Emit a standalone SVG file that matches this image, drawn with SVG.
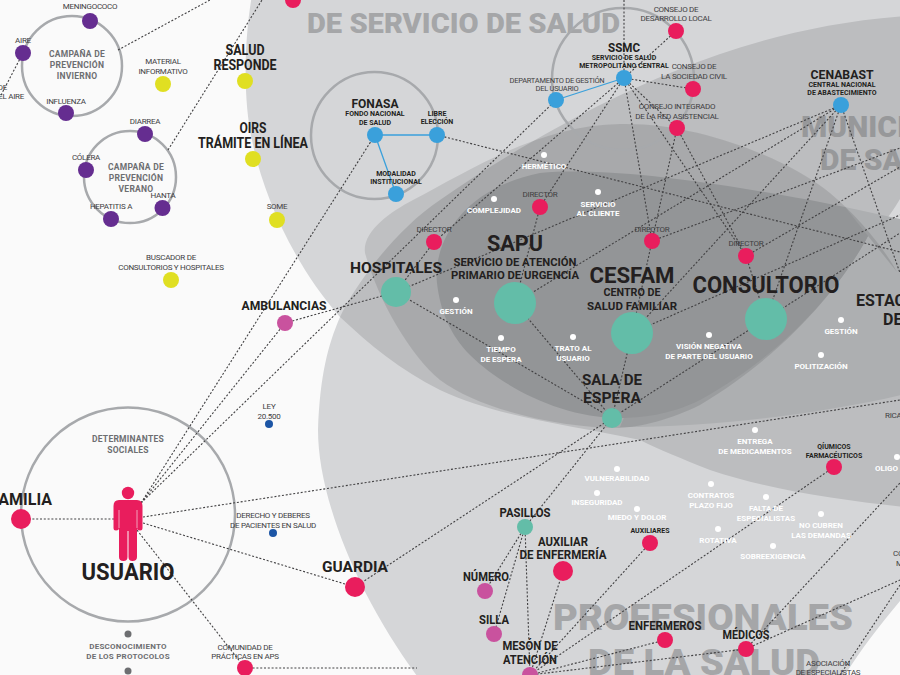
<svg xmlns="http://www.w3.org/2000/svg" width="900" height="675" viewBox="0 0 900 675">
<style>
text{font-family:"Roboto","Liberation Sans",sans-serif;text-anchor:middle}
.bg{font-weight:900;fill:#a5a6a8;text-anchor:start}
.r{font-size:8px;fill:#414042;letter-spacing:-.27px}
.h{font-weight:700;fill:#231f20}
.s{font-size:7px;font-weight:700;fill:#231f20}
.g{font-size:8.5px;font-weight:700;fill:#6d6e71;letter-spacing:.25px}
.w{font-size:8px;font-weight:700;fill:#fff;letter-spacing:-.02px}
.ring{fill:none;stroke:#a7a9ac;stroke-width:2.5}
.c line{stroke:#414042;stroke-width:1.1;stroke-dasharray:2 1.8}
.pk{fill:#e91d5d}.pu{fill:#652d90}.ye{fill:#e0df22}.te{fill:#63bda8}.bl{fill:#3aa0db}.mg{fill:#c9529e}.db{fill:#1c55a5}.gy{fill:#6d6e71}.wh{fill:#fff}
</style>
<rect width="900" height="675" fill="#fafafa"/>
<g id="background">
<path d="M252,-5 C244,40 243,100 252,140 C262,190 290,260 340,317 C328,345 320,375 318,430 C318,500 360,600 420,680 L842,680 C860,650 880,625 905,595 L905,-5Z" fill="#d5d6d8"/>
<path d="M340,317 C355,285 395,230 440,200 C490,165 550,130 600,105 C680,65 780,25 905,16 L905,507 C840,500 770,490 710,470 C680,458 660,450 640,440 C570,425 500,418 440,390 C400,370 370,345 340,317Z" fill="#bcbdbf"/>
<path d="M905,190 C897,205 890,215 880,228 L905,224Z" fill="#d8d9db"/>
<path d="M845,207 L905,220 L905,394 C830,412 720,427 620,427 L640,380Z" fill="#adafb1"/>
<path d="M365,253 C362,232 390,212 413,200 C470,170 540,125 620,124 C700,122 790,160 830,193 C860,218 885,250 897,272 L868,236 C850,270 800,345 700,405 C670,420 640,427 620,428 C560,428 480,410 440,380 C410,355 378,300 365,253Z" fill="#000" fill-opacity=".1"/>
<path d="M437,283 C433,250 455,190 540,173 C620,165 760,190 845,207 L868,236 C850,270 800,345 700,400 C670,415 640,418 620,418 C560,418 500,385 470,355 C450,335 440,310 437,283Z" fill="#939597"/>
<text class="bg" x="307" y="33" font-size="28" textLength="313" lengthAdjust="spacingAndGlyphs">DE SERVICIO DE SALUD</text>
<text class="bg" x="553" y="630" font-size="37" textLength="300" lengthAdjust="spacingAndGlyphs">PROFESIONALES</text>
<text class="bg" x="588" y="675" font-size="37" textLength="232" lengthAdjust="spacingAndGlyphs">DE LA SALUD</text>
<text class="bg" x="801" y="137" font-size="30" style="fill:#97989a">MUNICI</text>
<text class="bg" x="820" y="170" font-size="30" style="fill:#97989a">DE SA</text>
</g>
<g id="rings">
<circle class="ring" cx="72" cy="66" r="50"/>
<circle class="ring" cx="130" cy="177" r="46"/>
<circle class="ring" cx="374.5" cy="135.5" r="63.5"/>
<circle class="ring" cx="623" cy="79" r="71"/>
<circle class="ring" cx="128" cy="514.5" r="107"/>
</g>
<g id="connectors" class="c" fill="none">
<line x1="23" y1="53" x2="0" y2="97"/>
<line x1="118" y1="50" x2="210" y2="0"/>
<line x1="168" y1="150" x2="262" y2="0"/>
<line x1="141" y1="503" x2="375" y2="135"/>
<line x1="141" y1="503" x2="285" y2="323"/>
<line x1="141" y1="503" x2="556" y2="100"/>
<line x1="285" y1="323" x2="396" y2="292"/>
<line x1="143" y1="517" x2="900" y2="400"/>
<line x1="143" y1="523" x2="355" y2="587"/>
<line x1="355" y1="587" x2="612" y2="418"/>
<line x1="525" y1="527" x2="612" y2="418"/>
<line x1="137" y1="530" x2="245" y2="668"/>
<line x1="21" y1="519" x2="115" y2="519"/>
<line x1="245" y1="668" x2="417" y2="668"/>
<line x1="525" y1="527" x2="485" y2="591"/>
<line x1="525" y1="527" x2="494" y2="634"/>
<line x1="525" y1="527" x2="530" y2="675"/>
<line x1="563" y1="571" x2="530" y2="675"/>
<line x1="650" y1="543" x2="530" y2="675"/>
<line x1="834" y1="467" x2="530" y2="675"/>
<line x1="665" y1="640" x2="530" y2="675"/>
<line x1="746" y1="649" x2="530" y2="675"/>
<line x1="746" y1="649" x2="900" y2="580"/>
<line x1="746" y1="649" x2="900" y2="483"/>
<line x1="840" y1="675" x2="900" y2="585"/>
<line x1="624" y1="0" x2="624" y2="78"/>
<line x1="624" y1="78" x2="676" y2="31"/>
<line x1="624" y1="78" x2="693" y2="89"/>
<line x1="624" y1="78" x2="677" y2="128"/>
<line x1="624" y1="78" x2="540" y2="207"/>
<line x1="624" y1="78" x2="434" y2="242"/>
<line x1="434" y1="242" x2="396" y2="292"/>
<line x1="540" y1="207" x2="515" y2="303"/>
<line x1="652" y1="241" x2="632" y2="333"/>
<line x1="746" y1="256" x2="766" y2="319"/>
<line x1="624" y1="78" x2="652" y2="241"/>
<line x1="624" y1="78" x2="746" y2="256"/>
<line x1="677" y1="128" x2="652" y2="241"/>
<line x1="677" y1="128" x2="746" y2="256"/>
<line x1="437" y1="135" x2="900" y2="252"/>
<line x1="841" y1="105" x2="396" y2="292"/>
<line x1="841" y1="105" x2="515" y2="303"/>
<line x1="841" y1="105" x2="632" y2="333"/>
<line x1="841" y1="105" x2="766" y2="319"/>
<line x1="841" y1="105" x2="900" y2="273"/>
<line x1="652" y1="241" x2="900" y2="148"/>
<line x1="632" y1="333" x2="900" y2="215"/>
<line x1="766" y1="319" x2="900" y2="233"/>
<line x1="746" y1="256" x2="900" y2="167"/>
<line x1="612" y1="418" x2="632" y2="333"/>
<line x1="612" y1="418" x2="515" y2="303"/>
<line x1="612" y1="418" x2="766" y2="319"/>
<line x1="612" y1="418" x2="396" y2="292"/>
</g>
<g id="blue-links" stroke="#3aa0db" stroke-width="1.3" fill="none">
<path d="M375,135H437M375,135L396,194M556,100L624,78"/>
</g>
<g id="campana-invierno"><text class="g" x="77" y="57">CAMPAÑA DE</text><text class="g" x="77" y="68">PREVENCIÓN</text><text class="g" x="77" y="79">INVIERNO</text></g>
<g id="meningococo"><circle class="pu" cx="90" cy="21" r="8"/><text class="r" x="90" y="9">MENINGOCOCO</text></g>
<g id="aire"><circle class="pu" cx="23" cy="53" r="8"/><text class="r" x="23" y="43">AIRE</text></g>
<g id="influenza"><circle class="pu" cx="66" cy="113" r="8"/><text class="r" x="66" y="103.5">INFLUENZA</text></g>
<g id="calidad-aire"><text class="r" x="7" y="90" style="text-anchor:end">DE</text><text class="r" x="24" y="99" style="text-anchor:end">EL AIRE</text></g>
<g id="campana-verano"><text class="g" x="136" y="170">CAMPAÑA DE</text><text class="g" x="136" y="181">PREVENCIÓN</text><text class="g" x="136" y="192">VERANO</text></g>
<g id="diarrea"><circle class="pu" cx="145" cy="134" r="8"/><text class="r" x="145" y="124">DIARREA</text></g>
<g id="colera"><circle class="pu" cx="86" cy="170" r="8"/><text class="r" x="86" y="160">CÓLERA</text></g>
<g id="hanta"><circle class="pu" cx="162.5" cy="208" r="8"/><text class="r" x="163" y="197.5">HANTA</text></g>
<g id="hepatitis"><circle class="pu" cx="111" cy="219" r="8"/><text class="r" x="111" y="209">HEPATITIS A</text></g>
<g id="material"><circle class="ye" cx="163" cy="84" r="8"/><text class="r" x="163" y="64">MATERIAL</text><text class="r" x="163" y="73.5">INFORMATIVO</text></g>
<g id="salud-responde"><circle class="ye" cx="245" cy="81" r="8"/><text class="h" font-size="14" x="245" y="55" textLength="39" lengthAdjust="spacingAndGlyphs">SALUD</text><text class="h" font-size="14" x="245" y="70" textLength="63" lengthAdjust="spacingAndGlyphs">RESPONDE</text></g>
<g id="oirs"><circle class="ye" cx="253" cy="159" r="8"/><text class="h" font-size="14" x="253" y="133" textLength="27" lengthAdjust="spacingAndGlyphs">OIRS</text><text class="h" font-size="14" x="253" y="148" textLength="110" lengthAdjust="spacingAndGlyphs">TRÁMITE EN LÍNEA</text></g>
<g id="some"><circle class="ye" cx="277" cy="220" r="8"/><text class="r" x="277" y="209">SOME</text></g>
<g id="buscador"><circle class="ye" cx="171" cy="280" r="8"/><text class="r" x="171" y="260">BUSCADOR DE</text><text class="r" x="171" y="269.5">CONSULTORIOS Y HOSPITALES</text></g>
<g id="ambulancias"><circle class="mg" cx="285" cy="323" r="8"/><text class="h" font-size="12.5" x="284" y="310" textLength="85" lengthAdjust="spacingAndGlyphs">AMBULANCIAS</text></g>
<g id="ley"><circle class="db" cx="269" cy="424" r="4"/><text class="r" x="269" y="409">LEY</text><text class="r" x="269" y="419">20.500</text></g>
<g id="derecho"><circle class="db" cx="273" cy="533" r="4"/><text class="r" x="273" y="518">DERECHO Y DEBERES</text><text class="r" x="273" y="528">DE PACIENTES EN SALUD</text></g>
<g id="usuario">
<circle class="pk" cx="128" cy="493" r="6.2"/>
<path class="pk" d="M119,500H137Q142.5,500 142.5,506V528Q142.5,530.500 140,530.500Q137,530.500 137,528V557Q137,561 132.500,561Q128.500,561 128.500,557V531H127.500V557Q127.500,561 123.500,561Q119,561 119,557V528Q119,530.500 116,530.500Q113.500,530.500 113.500,528V506Q113.500,500 119,500Z"/>
<path d="M119,510V528M137,510V528" stroke="#fafafa" stroke-width=".6" fill="none"/>
<text class="g" x="128" y="442">DETERMINANTES</text><text class="g" x="128" y="453">SOCIALES</text>
<text class="h" font-size="23" x="128" y="580" textLength="93" lengthAdjust="spacingAndGlyphs">USUARIO</text>
</g>
<g id="familia"><circle class="pk" cx="21" cy="519" r="10"/><text class="h" font-size="16" x="52" y="505" style="text-anchor:end">FAMILIA</text></g>
<g id="desconocimiento"><circle class="gy" cx="128" cy="634" r="3.5"/><circle class="gy" cx="128" cy="671" r="3.5"/><text class="g" x="128" y="649" style="font-size:8px">DESCONOCIMIENTO</text><text class="g" x="128" y="658.5" style="font-size:8px">DE LOS PROTOCOLOS</text></g>
<g id="comunidad"><circle class="pk" cx="245" cy="668" r="8"/><text class="r" x="245" y="650">COMUNIDAD DE</text><text class="r" x="245" y="659">PRÁCTICAS EN APS</text></g>
<g id="guardia"><circle class="pk" cx="355" cy="587" r="10"/><text class="h" font-size="15.5" x="355" y="572" textLength="66" lengthAdjust="spacingAndGlyphs">GUARDIA</text></g>
<g id="pasillos"><circle class="te" cx="525" cy="527" r="8"/><text class="h" font-size="12.500" x="525" y="517" textLength="51" lengthAdjust="spacingAndGlyphs">PASILLOS</text></g>
<g id="auxiliar"><circle class="pk" cx="563" cy="571" r="10"/><text class="h" font-size="12.5" x="563" y="546" textLength="50" lengthAdjust="spacingAndGlyphs">AUXILIAR</text><text class="h" font-size="12.5" x="563" y="559" textLength="87" lengthAdjust="spacingAndGlyphs">DE ENFERMERÍA</text></g>
<g id="numero"><circle class="mg" cx="485" cy="591" r="8"/><text class="h" font-size="12.5" x="486" y="581" textLength="46" lengthAdjust="spacingAndGlyphs">NÚMERO</text></g>
<g id="silla"><circle class="mg" cx="494" cy="634" r="8"/><text class="h" font-size="12.5" x="494" y="624" textLength="30" lengthAdjust="spacingAndGlyphs">SILLA</text></g>
<g id="meson"><circle class="mg" cx="530" cy="675" r="8"/><text class="h" font-size="12.5" x="530" y="650" textLength="55" lengthAdjust="spacingAndGlyphs">MESÓN DE</text><text class="h" font-size="12.5" x="530" y="664" textLength="54" lengthAdjust="spacingAndGlyphs">ATENCIÓN</text></g>
<g id="auxiliares"><circle class="pk" cx="650" cy="543" r="8"/><text class="s" x="650" y="533">AUXILIARES</text></g>
<g id="enfermeros"><circle class="pk" cx="665" cy="640" r="8"/><text class="h" font-size="12.5" x="665" y="630" textLength="73" lengthAdjust="spacingAndGlyphs">ENFERMEROS</text></g>
<g id="medicos"><circle class="pk" cx="746" cy="649" r="8"/><text class="h" font-size="12.5" x="746" y="639" textLength="47" lengthAdjust="spacingAndGlyphs">MÉDICOS</text></g>
<g id="quimicos"><circle class="pk" cx="834" cy="467" r="8"/><text class="s" x="834" y="449">QÍUMICOS</text><text class="s" x="834" y="458">FARMACÉUTICOS</text></g>
<g id="asociacion"><text class="r" x="828" y="666">ASOCIACIÓN</text><text class="r" x="828" y="675">DE ESPECIALISTAS</text></g>
<g id="co"><text class="r" x="893" y="556" style="text-anchor:start">CO</text><text class="r" x="896" y="566" style="text-anchor:start">M</text></g>
<g id="rica"><text class="r" x="885" y="418" style="text-anchor:start">RICA</text></g>
<g id="oligo"><circle class="wh" cx="897" cy="457" r="3"/><text class="w" x="875" y="471" style="text-anchor:start">OLIGO</text></g>
<g id="hermetico"><circle class="wh" cx="544" cy="155" r="3"/><text class="w" x="544" y="169">HERMÉTICO</text></g>
<g id="complejidad"><circle class="wh" cx="494" cy="199" r="3"/><text class="w" x="494" y="213">COMPLEJIDAD</text></g>
<g id="servicio-cliente"><circle class="wh" cx="598" cy="192" r="3"/><text class="w" x="598" y="206.5">SERVICIO</text><text class="w" x="598" y="216">AL CLIENTE</text></g>
<g id="gestion1"><circle class="wh" cx="456" cy="300" r="3"/><text class="w" x="456" y="314">GESTIÓN</text></g>
<g id="tiempo"><circle class="wh" cx="501" cy="338" r="3"/><text class="w" x="501" y="352">TIEMPO</text><text class="w" x="501" y="362">DE ESPERA</text></g>
<g id="trato"><circle class="wh" cx="573" cy="337" r="3"/><text class="w" x="573" y="351">TRATO AL</text><text class="w" x="573" y="360.5">USUARIO</text></g>
<g id="vision"><circle class="wh" cx="709" cy="335" r="3"/><text class="w" x="709" y="349">VISIÓN NEGATIVA</text><text class="w" x="709" y="358.5">DE PARTE DEL USUARIO</text></g>
<g id="gestion2"><circle class="wh" cx="841" cy="320" r="3"/><text class="w" x="841" y="334">GESTIÓN</text></g>
<g id="politizacion"><circle class="wh" cx="821" cy="355" r="3"/><text class="w" x="821" y="369">POLITIZACIÓN</text></g>
<g id="entrega"><circle class="wh" cx="755" cy="430" r="3"/><text class="w" x="755" y="444">ENTREGA</text><text class="w" x="755" y="453.5">DE MEDICAMENTOS</text></g>
<g id="vulnerabilidad"><circle class="wh" cx="617" cy="469" r="3"/><text class="w" x="617" y="481">VULNERABILIDAD</text></g>
<g id="inseguridad"><circle class="wh" cx="597" cy="493" r="3"/><text class="w" x="597" y="505">INSEGURIDAD</text></g>
<g id="miedo"><circle class="wh" cx="637" cy="509" r="3"/><text class="w" x="637" y="520">MIEDO Y DOLOR</text></g>
<g id="contratos"><circle class="wh" cx="711" cy="484" r="3"/><text class="w" x="711" y="498">CONTRATOS</text><text class="w" x="711" y="508">PLAZO FIJO</text></g>
<g id="falta"><circle class="wh" cx="766" cy="497" r="3"/><text class="w" x="766" y="511">FALTA DE</text><text class="w" x="766" y="520.5">ESPECIALISTAS</text></g>
<g id="rotativa"><circle class="wh" cx="718" cy="529" r="3"/><text class="w" x="718" y="543">ROTATIVA</text></g>
<g id="no-cubren"><circle class="wh" cx="821" cy="514" r="3"/><text class="w" x="821" y="528">NO CUBREN</text><text class="w" x="821" y="537.5">LAS DEMANDAS</text></g>
<g id="sobreexigencia"><circle class="wh" cx="773" cy="546" r="3"/><text class="w" x="773" y="559">SOBREEXIGENCIA</text></g>
<g id="fonasa"><circle class="bl" cx="375" cy="135" r="8"/><text class="h" font-size="13.5" x="375" y="108" textLength="47" lengthAdjust="spacingAndGlyphs">FONASA</text><text class="s" x="375" y="116">FONDO NACIONAL</text><text class="s" x="375" y="124.5">DE SALUD</text></g>
<g id="libre"><circle class="bl" cx="437" cy="135" r="8"/><text class="s" x="437" y="116">LIBRE</text><text class="s" x="437" y="124">ELECCIÓN</text></g>
<g id="modalidad"><circle class="bl" cx="396" cy="194" r="8"/><text class="s" x="396" y="175.5">MODALIDAD</text><text class="s" x="396" y="184">INSTITUCIONAL</text></g>
<g id="ssmc"><circle class="bl" cx="624" cy="78" r="8"/><text class="h" font-size="13" x="624" y="52" textLength="32" lengthAdjust="spacingAndGlyphs">SSMC</text><text class="s" x="624" y="60">SERVICIO DE SALUD</text><text class="s" x="624" y="68">METROPOLITANO CENTRAL</text></g>
<g id="departamento"><circle class="bl" cx="556" cy="100" r="8"/><text class="r" x="557" y="83" style="font-size:7.5px">DEPARTAMENTO DE GESTIÓN</text><text class="r" x="557" y="90.5" style="font-size:7.5px">DEL USUARIO</text></g>
<g id="consejo-desarrollo"><circle class="pk" cx="676" cy="31" r="8"/><text class="r" x="676" y="11.5">CONSEJO DE</text><text class="r" x="676" y="20.5">DESARROLLO LOCAL</text></g>
<g id="consejo-sociedad"><circle class="pk" cx="693" cy="89" r="8"/><text class="r" x="694" y="69">CONSEJO DE</text><text class="r" x="694" y="78.5">LA SOCIEDAD CIVIL</text></g>
<g id="consejo-integrado"><circle class="pk" cx="677" cy="128" r="8"/><text class="r" x="677" y="109">CONSEJO INTEGRADO</text><text class="r" x="677" y="118.5">DE LA RED ASISTENCIAL</text></g>
<g id="cenabast"><circle class="bl" cx="841" cy="105" r="8"/><text class="h" font-size="13" x="842" y="78.5" textLength="63" lengthAdjust="spacingAndGlyphs">CENABAST</text><text class="s" x="842" y="86.5">CENTRAL NACIONAL</text><text class="s" x="842" y="94.5">DE ABASTECIMIENTO</text></g>
<g id="top-node"><circle class="pk" cx="293" cy="0" r="8"/></g>
<g id="director-hospital"><circle class="pk" cx="434" cy="242" r="8"/><text class="r" x="434" y="232">DIRECTOR</text></g>
<g id="director-sapu"><circle class="pk" cx="540" cy="207" r="8"/><text class="r" x="540" y="197">DIRECTOR</text></g>
<g id="director-cesfam"><circle class="pk" cx="652" cy="241" r="8"/><text class="r" x="652" y="231.5">DIRECTOR</text></g>
<g id="director-consultorio"><circle class="pk" cx="746" cy="256" r="8"/><text class="r" x="746" y="246">DIRECTOR</text></g>
<g id="hospitales"><circle class="te" cx="396" cy="292" r="15"/><text class="h" font-size="15.5" x="396" y="273" textLength="92" lengthAdjust="spacingAndGlyphs">HOSPITALES</text></g>
<g id="sapu"><circle class="te" cx="515" cy="303" r="21"/><text class="h" font-size="22" x="515" y="251" textLength="56" lengthAdjust="spacingAndGlyphs">SAPU</text><text class="h" font-size="11.5" x="515" y="265.5" textLength="123" lengthAdjust="spacingAndGlyphs">SERVICIO DE ATENCIÓN</text><text class="h" font-size="11.5" x="515" y="279" textLength="128" lengthAdjust="spacingAndGlyphs">PRIMARIO DE URGENCIA</text></g>
<g id="cesfam"><circle class="te" cx="632" cy="333" r="21"/><text class="h" font-size="22" x="632" y="283" textLength="85" lengthAdjust="spacingAndGlyphs">CESFAM</text><text class="h" font-size="11.5" x="632" y="295.5" textLength="57" lengthAdjust="spacingAndGlyphs">CENTRO DE</text><text class="h" font-size="11.5" x="632" y="310" textLength="90" lengthAdjust="spacingAndGlyphs">SALUD FAMILIAR</text></g>
<g id="consultorio"><circle class="te" cx="766" cy="319" r="21"/><text class="h" font-size="23" x="766" y="293" textLength="147" lengthAdjust="spacingAndGlyphs">CONSULTORIO</text></g>
<g id="estacion"><text class="h" font-size="16" x="856" y="306" style="text-anchor:start">ESTAC</text><text class="h" font-size="16" x="883" y="325" style="text-anchor:start">DE</text></g>
<g id="sala"><circle class="te" cx="612" cy="418" r="10"/><text class="h" font-size="15.5" x="612" y="385" textLength="60" lengthAdjust="spacingAndGlyphs">SALA DE</text><text class="h" font-size="15.5" x="612" y="403" textLength="58" lengthAdjust="spacingAndGlyphs">ESPERA</text></g>
</svg>
